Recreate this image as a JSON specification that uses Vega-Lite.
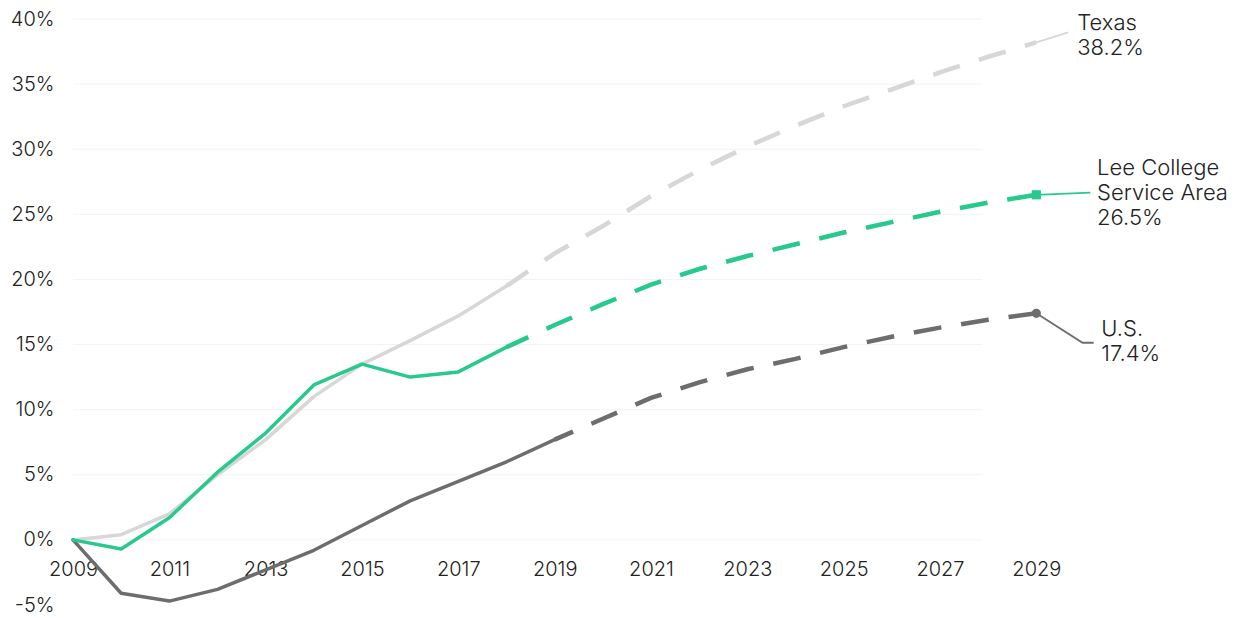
{
  "$schema": "https://vega.github.io/schema/vega-lite/v6.json",
  "width": 1156,
  "height": 586,
  "autosize": {"type": "none"},
  "padding": {"left": 73, "top": 19, "right": 9, "bottom": 13},
  "background": "white",
  "config": {
    "view": {"stroke": null},
    "font": "Inter",
    "axis": {"labelFont": "Inter", "labelFontSize": 20, "labelFontWeight": 300, "labelColor": "#222222", "domain": false, "ticks": false, "grid": false, "title": null}
  },
  "datasets": {
    "series": [
      {"series": "Texas", "seg": "actual", "year": 2009, "value": 0},
      {"series": "Texas", "seg": "actual", "year": 2010, "value": 0.4},
      {"series": "Texas", "seg": "actual", "year": 2011, "value": 2.0},
      {"series": "Texas", "seg": "actual", "year": 2012, "value": 5.0},
      {"series": "Texas", "seg": "actual", "year": 2013, "value": 7.7},
      {"series": "Texas", "seg": "actual", "year": 2014, "value": 11.0},
      {"series": "Texas", "seg": "actual", "year": 2015, "value": 13.5},
      {"series": "Texas", "seg": "actual", "year": 2016, "value": 15.3},
      {"series": "Texas", "seg": "actual", "year": 2017, "value": 17.2},
      {"series": "Texas", "seg": "actual", "year": 2018, "value": 19.5},
      {"series": "Texas", "seg": "projected", "year": 2018, "value": 19.5},
      {"series": "Texas", "seg": "projected", "year": 2019, "value": 22.0},
      {"series": "Texas", "seg": "projected", "year": 2020, "value": 24.1},
      {"series": "Texas", "seg": "projected", "year": 2021, "value": 26.4},
      {"series": "Texas", "seg": "projected", "year": 2022, "value": 28.4},
      {"series": "Texas", "seg": "projected", "year": 2023, "value": 30.2},
      {"series": "Texas", "seg": "projected", "year": 2024, "value": 31.8},
      {"series": "Texas", "seg": "projected", "year": 2025, "value": 33.3},
      {"series": "Texas", "seg": "projected", "year": 2026, "value": 34.6},
      {"series": "Texas", "seg": "projected", "year": 2027, "value": 35.9},
      {"series": "Texas", "seg": "projected", "year": 2028, "value": 37.1},
      {"series": "Texas", "seg": "projected", "year": 2029, "value": 38.2},
      {"series": "U.S.", "seg": "actual", "year": 2009, "value": 0},
      {"series": "U.S.", "seg": "actual", "year": 2010, "value": -4.1},
      {"series": "U.S.", "seg": "actual", "year": 2011, "value": -4.7},
      {"series": "U.S.", "seg": "actual", "year": 2012, "value": -3.8},
      {"series": "U.S.", "seg": "actual", "year": 2013, "value": -2.3},
      {"series": "U.S.", "seg": "actual", "year": 2014, "value": -0.8},
      {"series": "U.S.", "seg": "actual", "year": 2015, "value": 1.1},
      {"series": "U.S.", "seg": "actual", "year": 2016, "value": 3.0},
      {"series": "U.S.", "seg": "actual", "year": 2017, "value": 4.5},
      {"series": "U.S.", "seg": "actual", "year": 2018, "value": 6.0},
      {"series": "U.S.", "seg": "actual", "year": 2019, "value": 7.7},
      {"series": "U.S.", "seg": "projected", "year": 2019, "value": 7.7},
      {"series": "U.S.", "seg": "projected", "year": 2020, "value": 9.3},
      {"series": "U.S.", "seg": "projected", "year": 2021, "value": 10.9},
      {"series": "U.S.", "seg": "projected", "year": 2022, "value": 12.1},
      {"series": "U.S.", "seg": "projected", "year": 2023, "value": 13.1},
      {"series": "U.S.", "seg": "projected", "year": 2024, "value": 13.9},
      {"series": "U.S.", "seg": "projected", "year": 2025, "value": 14.8},
      {"series": "U.S.", "seg": "projected", "year": 2026, "value": 15.6},
      {"series": "U.S.", "seg": "projected", "year": 2027, "value": 16.3},
      {"series": "U.S.", "seg": "projected", "year": 2028, "value": 16.9},
      {"series": "U.S.", "seg": "projected", "year": 2029, "value": 17.4},
      {"series": "Lee College Service Area", "seg": "actual", "year": 2009, "value": 0},
      {"series": "Lee College Service Area", "seg": "actual", "year": 2010, "value": -0.7},
      {"series": "Lee College Service Area", "seg": "actual", "year": 2011, "value": 1.7},
      {"series": "Lee College Service Area", "seg": "actual", "year": 2012, "value": 5.2},
      {"series": "Lee College Service Area", "seg": "actual", "year": 2013, "value": 8.2},
      {"series": "Lee College Service Area", "seg": "actual", "year": 2014, "value": 11.9},
      {"series": "Lee College Service Area", "seg": "actual", "year": 2015, "value": 13.5},
      {"series": "Lee College Service Area", "seg": "actual", "year": 2016, "value": 12.5},
      {"series": "Lee College Service Area", "seg": "actual", "year": 2017, "value": 12.9},
      {"series": "Lee College Service Area", "seg": "actual", "year": 2018, "value": 14.8},
      {"series": "Lee College Service Area", "seg": "projected", "year": 2018, "value": 14.8},
      {"series": "Lee College Service Area", "seg": "projected", "year": 2019, "value": 16.5},
      {"series": "Lee College Service Area", "seg": "projected", "year": 2020, "value": 18.1},
      {"series": "Lee College Service Area", "seg": "projected", "year": 2021, "value": 19.6},
      {"series": "Lee College Service Area", "seg": "projected", "year": 2022, "value": 20.8},
      {"series": "Lee College Service Area", "seg": "projected", "year": 2023, "value": 21.8},
      {"series": "Lee College Service Area", "seg": "projected", "year": 2024, "value": 22.7},
      {"series": "Lee College Service Area", "seg": "projected", "year": 2025, "value": 23.6},
      {"series": "Lee College Service Area", "seg": "projected", "year": 2026, "value": 24.4},
      {"series": "Lee College Service Area", "seg": "projected", "year": 2027, "value": 25.2},
      {"series": "Lee College Service Area", "seg": "projected", "year": 2028, "value": 25.9},
      {"series": "Lee College Service Area", "seg": "projected", "year": 2029, "value": 26.5}
    ],
    "grid": [{"g": 0}, {"g": 5}, {"g": 10}, {"g": 15}, {"g": 20}, {"g": 25}, {"g": 30}, {"g": 35}, {"g": 40}],
    "connectors": [
      {"series": "Texas", "k": 1, "year": 2029, "value": 38.2},
      {"series": "Texas", "k": 2, "year": 2029.66, "value": 38.97},
      {"series": "Lee College Service Area", "k": 1, "year": 2029, "value": 26.5},
      {"series": "Lee College Service Area", "k": 2, "year": 2030.12, "value": 26.67},
      {"series": "U.S.", "k": 1, "year": 2029, "value": 17.4},
      {"series": "U.S.", "k": 2, "year": 2029.96, "value": 15.14},
      {"series": "U.S.", "k": 3, "year": 2030.19, "value": 15.14}
    ],
    "labels": [
      {"series": "Texas", "lx": 2029.85, "ly": 39.7, "text": ["Texas", "38.2%"]},
      {"series": "Lee College Service Area", "lx": 2030.26, "ly": 28.52, "text": ["Lee College", "Service Area", "26.5%"]},
      {"series": "U.S.", "lx": 2030.35, "ly": 16.18, "text": ["U.S.", "17.4%"]}
    ]
  },
  "layer": [
    {
      "data": {"name": "grid"},
      "mark": {"type": "rule", "color": "#f3f3f3", "strokeWidth": 1},
      "encoding": {
        "x": {"datum": 2009, "type": "quantitative", "scale": {"domain": [2009, 2033], "nice": false, "zero": false},
          "axis": {"values": [2009, 2011, 2013, 2015, 2017, 2019, 2021, 2023, 2025, 2027, 2029], "format": "d", "offset": -65, "labelPadding": 35, "labelBaseline": "alphabetic", "labelFlush": false, "labelOverlap": false}},
        "x2": {"datum": 2027.88},
        "y": {"field": "g", "type": "quantitative", "scale": {"domain": [-5, 40], "nice": false, "zero": false},
          "axis": {"values": [-5, 0, 5, 10, 15, 20, 25, 30, 35, 40], "labelExpr": "datum.value + '%'", "labelPadding": 19}}
      }
    },
    {
      "data": {"name": "series"},
      "transform": [{"filter": "datum.series === 'Texas' && datum.seg === 'actual'"}],
      "mark": {"type": "line", "strokeWidth": 3.5, "strokeJoin": "round", "strokeCap": "round"},
      "encoding": {
        "x": {"field": "year", "type": "quantitative"},
        "y": {"field": "value", "type": "quantitative"},
        "color": {"field": "series", "type": "nominal", "legend": null, "scale": {"domain": ["Texas", "U.S.", "Lee College Service Area"], "range": ["#d7d7d7", "#6d6d6d", "#27c98c"]}}
      }
    },
    {
      "data": {"name": "series"},
      "transform": [{"filter": "datum.series === 'Texas' && datum.seg === 'projected'"}],
      "mark": {"type": "line", "strokeWidth": 4.5, "strokeDash": [28, 20], "strokeDashOffset": 2},
      "encoding": {
        "x": {"field": "year", "type": "quantitative"},
        "y": {"field": "value", "type": "quantitative"},
        "color": {"field": "series", "type": "nominal", "legend": null}
      }
    },
    {
      "data": {"name": "series"},
      "transform": [{"filter": "datum.series === 'U.S.' && datum.seg === 'actual'"}],
      "mark": {"type": "line", "strokeWidth": 3.5, "strokeJoin": "round", "strokeCap": "round"},
      "encoding": {
        "x": {"field": "year", "type": "quantitative"},
        "y": {"field": "value", "type": "quantitative"},
        "color": {"field": "series", "type": "nominal", "legend": null}
      }
    },
    {
      "data": {"name": "series"},
      "transform": [{"filter": "datum.series === 'U.S.' && datum.seg === 'projected'"}],
      "mark": {"type": "line", "strokeWidth": 4.5, "strokeDash": [28, 20], "strokeDashOffset": 8},
      "encoding": {
        "x": {"field": "year", "type": "quantitative"},
        "y": {"field": "value", "type": "quantitative"},
        "color": {"field": "series", "type": "nominal", "legend": null}
      }
    },
    {
      "data": {"name": "series"},
      "transform": [{"filter": "datum.series === 'Lee College Service Area' && datum.seg === 'actual'"}],
      "mark": {"type": "line", "strokeWidth": 3.5, "strokeJoin": "round", "strokeCap": "round"},
      "encoding": {
        "x": {"field": "year", "type": "quantitative"},
        "y": {"field": "value", "type": "quantitative"},
        "color": {"field": "series", "type": "nominal", "legend": null}
      }
    },
    {
      "data": {"name": "series"},
      "transform": [{"filter": "datum.series === 'Lee College Service Area' && datum.seg === 'projected'"}],
      "mark": {"type": "line", "strokeWidth": 4.5, "strokeDash": [28, 20], "strokeDashOffset": 4},
      "encoding": {
        "x": {"field": "year", "type": "quantitative"},
        "y": {"field": "value", "type": "quantitative"},
        "color": {"field": "series", "type": "nominal", "legend": null}
      }
    },
    {
      "data": {"name": "connectors"},
      "mark": {"type": "line", "strokeWidth": 1.8},
      "encoding": {
        "x": {"field": "year", "type": "quantitative"},
        "y": {"field": "value", "type": "quantitative"},
        "detail": {"field": "series"},
        "order": {"field": "k"},
        "color": {"field": "series", "type": "nominal", "legend": null}
      }
    },
    {
      "data": {"name": "series"},
      "transform": [{"filter": "datum.seg === 'projected' && datum.year === 2029 && datum.series !== 'Texas'"}],
      "mark": {"type": "point", "filled": true, "opacity": 1, "size": 85},
      "encoding": {
        "x": {"field": "year", "type": "quantitative"},
        "y": {"field": "value", "type": "quantitative"},
        "color": {"field": "series", "type": "nominal", "legend": null},
        "shape": {"field": "series", "type": "nominal", "legend": null, "scale": {"domain": ["U.S.", "Lee College Service Area"], "range": ["circle", "square"]}}
      }
    },
    {
      "data": {"name": "labels"},
      "mark": {"type": "text", "align": "left", "baseline": "middle", "fontSize": 22, "fontWeight": 300, "lineHeight": 25, "color": "#222222", "font": "Inter"},
      "encoding": {
        "x": {"field": "lx", "type": "quantitative"},
        "y": {"field": "ly", "type": "quantitative"},
        "text": {"field": "text"}
      }
    }
  ]
}
